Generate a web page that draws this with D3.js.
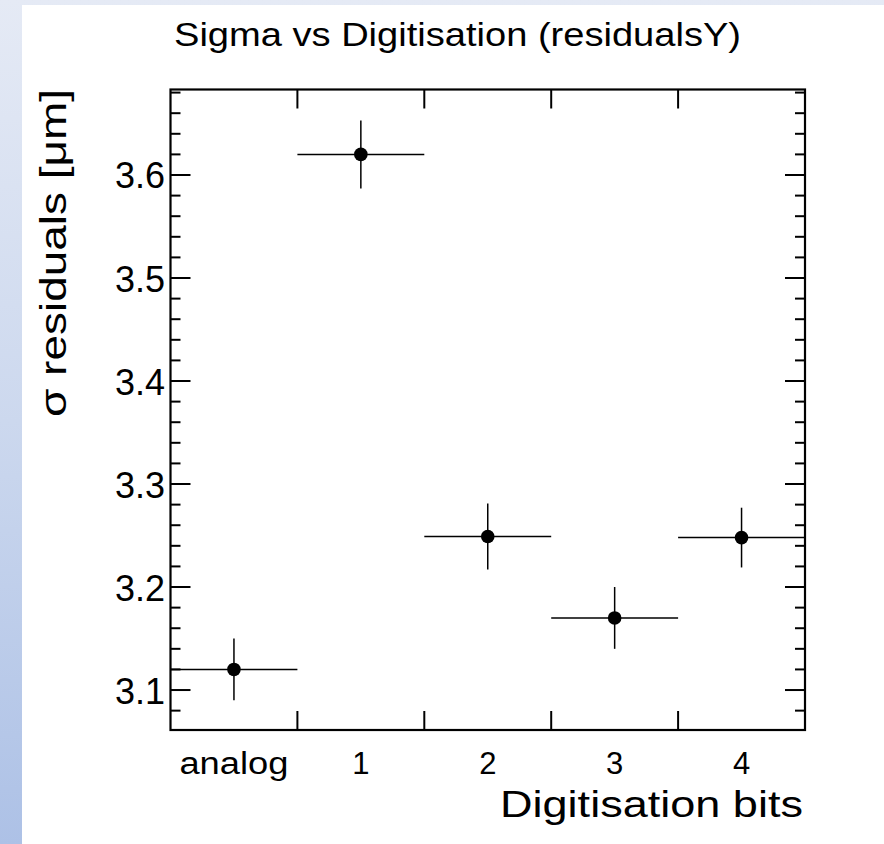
<!DOCTYPE html>
<html>
<head>
<meta charset="utf-8">
<script src="https://cdn.jsdelivr.net/npm/d3@7"></script>
<style>
  html, body { margin: 0; padding: 0; background: #fff; }
  svg { display: block; }
  text { font-family: "Liberation Sans", Arial, Helvetica, sans-serif; fill: #000; }
</style>
</head>
<body>
<script>
// ---- data ----
const categories = ["analog", "1", "2", "3", "4"];
const sigmaValues = [3.120, 3.620, 3.249, 3.170, 3.248];
const sigmaErrors = [0.030, 0.033, 0.032, 0.030, 0.029];
const yMajorTicks = [3.1, 3.2, 3.3, 3.4, 3.5, 3.6];
const titleText = "Sigma vs Digitisation (residualsY)";
const xTitleText = "Digitisation bits";
const yTitleText = "σ residuals [μm]";

const W = 884, H = 844;
const svg = d3.select("body").append("svg").attr("width", W).attr("height", H);

// background (slide gradient) + white image area
const defs = svg.append("defs");
const grad = defs.append("linearGradient").attr("id", "bg").attr("x1", 0).attr("y1", 0).attr("x2", 0).attr("y2", 1);
grad.append("stop").attr("offset", "0%").attr("stop-color", "#e5eaf5");
grad.append("stop").attr("offset", "50%").attr("stop-color", "#ccd8ee");
grad.append("stop").attr("offset", "100%").attr("stop-color", "#adc1e6");
svg.append("rect").attr("width", W).attr("height", H).attr("fill", "url(#bg)");
svg.append("rect").attr("x", 22).attr("y", 5).attr("width", W - 22).attr("height", H - 5).attr("fill", "#fff");

// plot frame
const x0 = 170.5, x1 = 805, y0 = 89.5, y1 = 730;
const x = d3.scaleLinear().domain([0, categories.length]).range([x0, x1]);
const y = d3.scaleLinear().domain([3.0612, 3.683]).range([y1, y0]);

const g = svg.append("g");

// y axis ticks (left and right), major and minor
const yMinor = d3.range(3.08, 3.6801, 0.02).map(v => +v.toFixed(2));
const isMajor = v => yMajorTicks.some(m => Math.abs(m - v) < 1e-6);
const tickG = g.append("g").attr("stroke", "#000").attr("stroke-width", 2);
yMinor.forEach(v => {
  const len = isMajor(v) ? 20 : 10;
  const yy = y(v);
  tickG.append("line").attr("x1", x0).attr("x2", x0 + len).attr("y1", yy).attr("y2", yy);
  tickG.append("line").attr("x1", x1).attr("x2", x1 - len).attr("y1", yy).attr("y2", yy);
});
// x ticks at bin edges (bottom and top)
d3.range(1, categories.length).forEach(i => {
  const xx = x(i);
  tickG.append("line").attr("x1", xx).attr("x2", xx).attr("y1", y1).attr("y2", y1 - 19);
  tickG.append("line").attr("x1", xx).attr("x2", xx).attr("y1", y0).attr("y2", y0 + 19);
});

// frame
g.append("rect").attr("x", x0).attr("y", y0).attr("width", x1 - x0).attr("height", y1 - y0)
  .attr("fill", "none").attr("stroke", "#000").attr("stroke-width", 2.2);

// y tick labels
g.append("g").selectAll("text").data(yMajorTicks).join("text")
  .attr("x", 165).attr("y", d => y(d) + 13.5)
  .attr("text-anchor", "end").attr("font-size", 36)
  .text(d => d.toFixed(1));

// x tick labels (bin labels)
const xl = g.append("g").selectAll("text").data(categories).join("text")
  .attr("x", (d, i) => x(i + 0.5)).attr("y", 774)
  .attr("text-anchor", "middle").attr("font-size", 31)
  .text(d => d);
xl.filter(d => d === "analog").attr("textLength", 109).attr("lengthAdjust", "spacingAndGlyphs");

// data points with error bars
const pts = g.append("g");
categories.forEach((c, i) => {
  const cx = x(i + 0.5), cy = y(sigmaValues[i]);
  pts.append("line").attr("x1", x(i)).attr("x2", x(i + 1)).attr("y1", cy).attr("y2", cy)
    .attr("stroke", "#000").attr("stroke-width", 1.5);
  pts.append("line").attr("x1", cx).attr("x2", cx)
    .attr("y1", y(sigmaValues[i] + sigmaErrors[i])).attr("y2", y(sigmaValues[i] - sigmaErrors[i]))
    .attr("stroke", "#000").attr("stroke-width", 1.5);
  pts.append("circle").attr("cx", cx).attr("cy", cy).attr("r", 6.8).attr("fill", "#000");
});

// title
svg.append("text").attr("x", 174).attr("y", 45.5).attr("font-size", 33.5)
  .attr("textLength", 567).attr("lengthAdjust", "spacingAndGlyphs")
  .text(titleText);

// x axis title
svg.append("text").attr("x", 500).attr("y", 816.5).attr("font-size", 37)
  .attr("textLength", 303).attr("lengthAdjust", "spacingAndGlyphs")
  .text(xTitleText);

// y axis title
svg.append("text").attr("transform", "translate(66,417) rotate(-90)")
  .attr("x", 0).attr("y", 0).attr("font-size", 37)
  .attr("textLength", 328).attr("lengthAdjust", "spacingAndGlyphs")
  .text(yTitleText);
</script>
</body>
</html>
